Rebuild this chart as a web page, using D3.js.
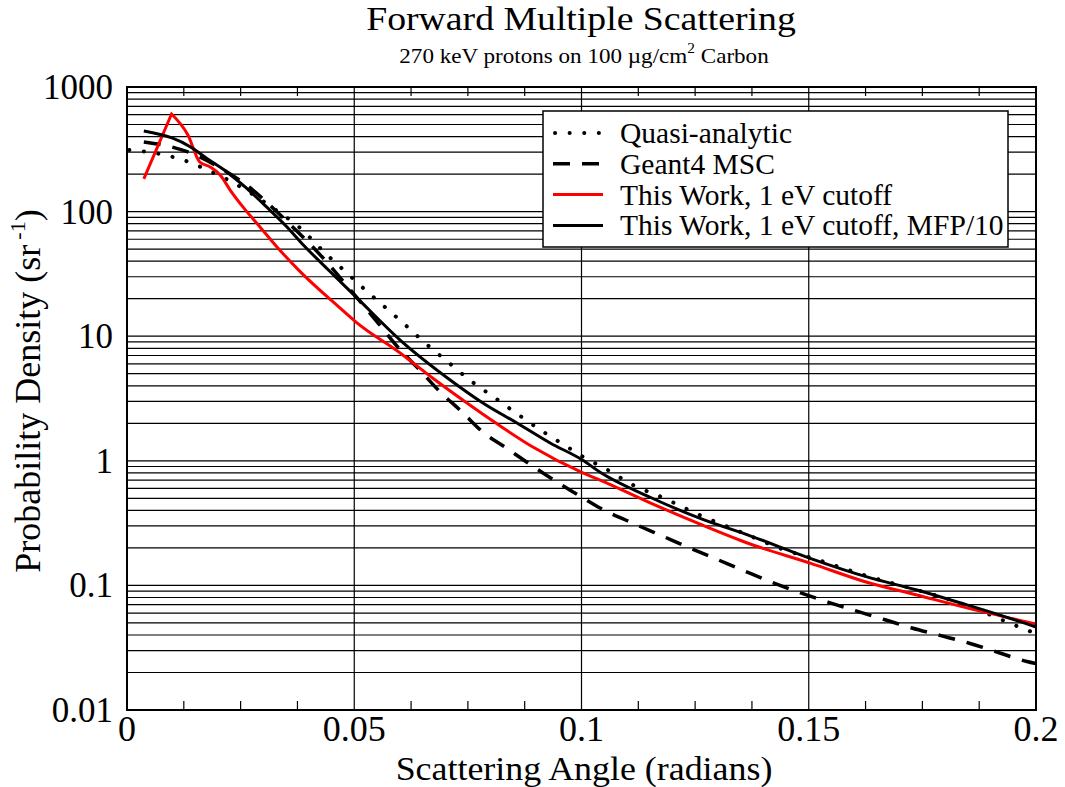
<!DOCTYPE html>
<html>
<head>
<meta charset="utf-8">
<script src="https://cdn.jsdelivr.net/npm/d3@7"></script>
<style>
  html, body { margin: 0; padding: 0; background: #fff; }
  svg { display: block; font-family: "Liberation Serif", "Times New Roman", serif; }
</style>
</head>
<body>
<svg id="chart" width="1065" height="787"></svg>
<script>
// Scattering angle (radians) and probability density (sr^-1) for each series
const quasiAngle = [0.0005, 0.0073, 0.0136, 0.0167, 0.0227, 0.0321, 0.0381, 0.0436, 0.0484, 0.0532, 0.0557, 0.0607, 0.0656, 0.0706, 0.0757, 0.0810, 0.0862, 0.0917, 0.0972, 0.1001, 0.1058, 0.1113, 0.1177, 0.1265, 0.1355, 0.1448, 0.1509, 0.1628, 0.1738, 0.1848, 0.1947, 0.2000];
const quasiDensity = [312, 290, 250, 224, 176, 107, 73.8, 46.5, 32.1, 22.2, 18.5, 12.8, 8.82, 6.21, 4.37, 3.19, 2.33, 1.70, 1.27, 1.09, 0.843, 0.640, 0.51, 0.36, 0.264, 0.192, 0.165, 0.119, 0.092, 0.069, 0.049, 0.041];

const geantAngle = [0.0037, 0.0099, 0.0134, 0.0220, 0.0277, 0.0321, 0.0365, 0.0425, 0.0473, 0.0552, 0.0598, 0.0642, 0.0689, 0.0735, 0.0783, 0.0834, 0.0889, 0.0946, 0.1001, 0.1041, 0.1118, 0.1177, 0.1234, 0.1298, 0.1360, 0.1419, 0.1479, 0.1542, 0.1604, 0.1668, 0.1727, 0.1791, 0.1855, 0.1919, 0.1980, 0.2000];
const geantDensity = [362, 330, 301, 208, 149, 107, 75, 45, 28.3, 12.8, 8.0, 5.45, 3.57, 2.51, 1.70, 1.27, 0.925, 0.676, 0.51, 0.418, 0.31, 0.25, 0.203, 0.162, 0.130, 0.106, 0.088, 0.0735, 0.0624, 0.0530, 0.0455, 0.0395, 0.0342, 0.0288, 0.0245, 0.0236];

const workAngle = [0.0037, 0.0098, 0.0134, 0.0160, 0.0183, 0.0205, 0.0227, 0.0255, 0.0293, 0.0330, 0.0381, 0.0469, 0.0506, 0.0601, 0.0673, 0.0748, 0.0815, 0.0893, 0.1003, 0.1041, 0.1151, 0.1261, 0.1371, 0.1503, 0.1628, 0.1738, 0.1848, 0.2000];
const workDensity = [183, 607, 412, 250, 228, 197, 149, 109, 75, 52, 33, 16.8, 12.8, 7.33, 4.6, 2.91, 1.97, 1.29, 0.80, 0.70, 0.46, 0.31, 0.215, 0.151, 0.106, 0.0837, 0.066, 0.049];

const mfpAngle = [0.0037, 0.0099, 0.0139, 0.0175, 0.0219, 0.0263, 0.0307, 0.0351, 0.0388, 0.0445, 0.0506, 0.0601, 0.0711, 0.0783, 0.0858, 0.0931, 0.1003, 0.1041, 0.1151, 0.1261, 0.1371, 0.1503, 0.1628, 0.1738, 0.1848, 0.1921, 0.2000];
const mfpDensity = [444, 390, 332, 268, 209, 154, 109, 76, 54, 33.5, 20.3, 9.3, 4.45, 2.91, 2.01, 1.39, 1.01, 0.81, 0.51, 0.345, 0.25, 0.165, 0.117, 0.0918, 0.0697, 0.0578, 0.0463];

const seriesNames = ["Quasi-analytic", "Geant4 MSC", "This Work, 1 eV cutoff", "This Work, 1 eV cutoff, MFP/10"];

const xTickValues = [0, 0.05, 0.1, 0.15, 0.2];
const xTickLabels = ["0", "0.05", "0.1", "0.15", "0.2"];
const yTickValues = [0.01, 0.1, 1, 10, 100, 1000];
const yTickLabels = ["0.01", "0.1", "1", "10", "100", "1000"];

(function draw() {
  const svg = d3.select("#chart");
  const L = 127, R = 1036, T = 87, B = 710;

  const x = d3.scaleLinear().domain([0, 0.2]).range([L, R]);
  const y = d3.scaleLog().domain([0.01, 1000]).range([B, T]);

  // Horizontal grid: every 1..9 multiple within each decade
  const gridY = [];
  for (let e = -2; e < 3; e++) {
    for (let m = 1; m <= 9; m++) gridY.push(m * Math.pow(10, e));
  }
  gridY.push(1000);
  svg.append("g").selectAll("line").data(gridY).join("line")
    .attr("x1", L).attr("x2", R)
    .attr("y1", d => y(d)).attr("y2", d => y(d))
    .attr("stroke", "#000").attr("stroke-width", 1.2);

  // Vertical grid at labelled angles
  svg.append("g").selectAll("line").data(xTickValues.slice(1, -1)).join("line")
    .attr("x1", d => x(d)).attr("x2", d => x(d))
    .attr("y1", T).attr("y2", B)
    .attr("stroke", "#000").attr("stroke-width", 1.2);

  // Minor x ticks along top and bottom edges
  const minorX = d3.range(1, 16).map(i => i * 0.0125)
    .filter(v => Math.abs(v / 0.05 - Math.round(v / 0.05)) > 1e-6);
  const minorG = svg.append("g");
  minorG.selectAll("line.b").data(minorX).join("line").attr("class", "b")
    .attr("x1", d => x(d)).attr("x2", d => x(d))
    .attr("y1", B).attr("y2", B - 9)
    .attr("stroke", "#000").attr("stroke-width", 1.2);
  minorG.selectAll("line.t").data(minorX).join("line").attr("class", "t")
    .attr("x1", d => x(d)).attr("x2", d => x(d))
    .attr("y1", T).attr("y2", T + 9)
    .attr("stroke", "#000").attr("stroke-width", 1.2);

  // Curves
  svg.append("defs").append("clipPath").attr("id", "plot-clip")
    .append("rect").attr("x", L).attr("y", T).attr("width", R - L).attr("height", B - T);

  const smooth = d3.line().x(d => x(d[0])).y(d => y(d[1])).curve(d3.curveMonotoneX);
  const straight = d3.line().x(d => x(d[0])).y(d => y(d[1])).curve(d3.curveLinear);
  const zip = (a, b) => a.map((v, i) => [v, b[i]]);

  // The red series rises linearly to a sharp peak, then falls smoothly
  const peakPath = data => {
    const k = d3.maxIndex(data, d => d[1]);
    return straight(data.slice(0, k + 1)) + smooth(data.slice(k)).replace(/^M/, "L");
  };

  const styles = [
    { data: zip(quasiAngle, quasiDensity), color: "#000", width: 4, dash: "0.1 14.5", cap: "round", path: smooth },
    { data: zip(geantAngle, geantDensity), color: "#000", width: 3.5, dash: "17 12", cap: "butt", path: smooth },
    { data: zip(workAngle, workDensity), color: "#ff0000", width: 3, dash: null, cap: "butt", path: peakPath },
    { data: zip(mfpAngle, mfpDensity), color: "#000", width: 3, dash: null, cap: "butt", path: smooth }
  ];

  const curves = svg.append("g").attr("clip-path", "url(#plot-clip)");
  styles.forEach(s => {
    curves.append("path")
      .attr("d", s.path(s.data))
      .attr("fill", "none")
      .attr("stroke", s.color)
      .attr("stroke-width", s.width)
      .attr("stroke-dasharray", s.dash)
      .attr("stroke-linecap", s.cap)
      .attr("stroke-linejoin", "miter");
  });

  // Frame
  svg.append("rect").attr("x", L).attr("y", T).attr("width", R - L).attr("height", B - T)
    .attr("fill", "none").attr("stroke", "#000").attr("stroke-width", 2);

  // Tick labels
  svg.append("g").selectAll("text").data(xTickValues).join("text")
    .attr("x", d => x(d)).attr("y", 741)
    .attr("text-anchor", "middle").attr("font-size", 36)
    .text((d, i) => xTickLabels[i]);

  svg.append("g").selectAll("text").data(yTickValues).join("text")
    .attr("x", 113).attr("y", d => y(d) + 12)
    .attr("text-anchor", "end").attr("font-size", 35)
    .text((d, i) => yTickLabels[i]);

  // Axis titles (slightly widened glyphs)
  svg.append("text").attr("transform", "translate(584,780) scale(1.056,1)")
    .attr("text-anchor", "middle").attr("font-size", 34).text("Scattering Angle (radians)");

  const yLab = svg.append("text").attr("transform", "translate(40,391) rotate(-90)")
    .attr("text-anchor", "middle").attr("font-size", 36);
  yLab.append("tspan").text("Probability Density (sr");
  yLab.append("tspan").attr("font-size", 22).attr("dx", 5).attr("dy", -15).text("-1");
  yLab.append("tspan").attr("dy", 15).text(")");

  // Title and subtitle
  svg.append("text").attr("transform", "translate(581,30) scale(1.11,1)")
    .attr("text-anchor", "middle").attr("font-size", 34).text("Forward Multiple Scattering");

  const sub = svg.append("text").attr("transform", "translate(584,63) scale(1.1,1)")
    .attr("text-anchor", "middle").attr("font-size", 21);
  sub.append("tspan").text("270 keV protons on 100 \u00b5g/cm");
  sub.append("tspan").attr("font-size", 14).attr("dy", -10).text("2");
  sub.append("tspan").attr("dy", 10).text(" Carbon");

  // Legend
  const legend = svg.append("g");
  legend.append("rect").attr("x", 543).attr("y", 111).attr("width", 465).attr("height", 136)
    .attr("fill", "#fff").attr("stroke", "#000").attr("stroke-width", 1.5);
  const legendRows = legend.selectAll("g").data(styles).join("g")
    .attr("transform", (d, i) => `translate(0, ${133 + i * 30.8})`);
  legendRows.append("line")
    .attr("x1", d => d.cap === "round" ? 555 : 553).attr("x2", 603)
    .attr("y1", 0).attr("y2", 0)
    .attr("stroke", d => d.color)
    .attr("stroke-width", d => d.width)
    .attr("stroke-dasharray", d => d.dash)
    .attr("stroke-linecap", d => d.cap);
  legendRows.append("text").attr("x", 620).attr("y", 10).attr("font-size", 29.5)
    .text((d, i) => seriesNames[i]);
})();
</script>
</body>
</html>
